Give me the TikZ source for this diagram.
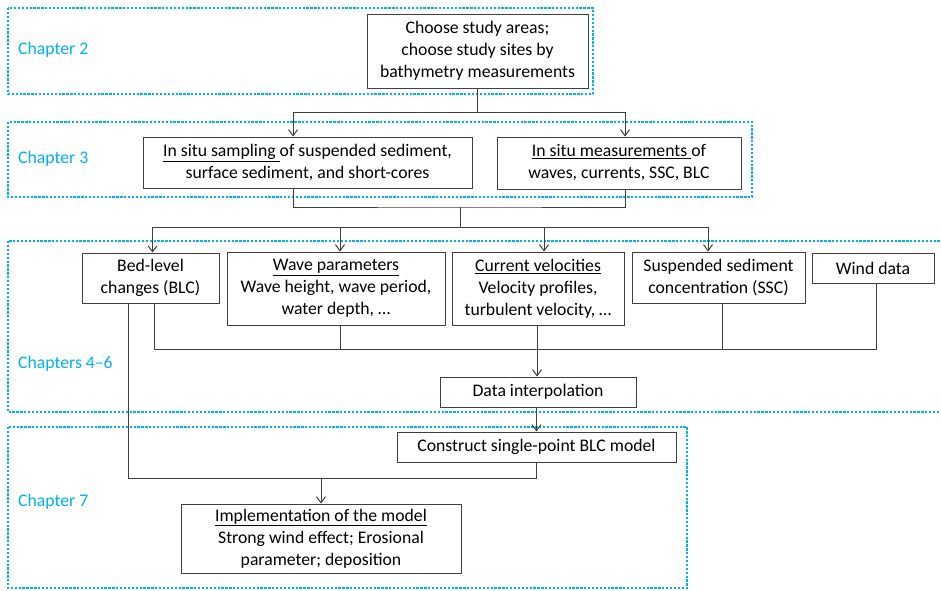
\documentclass[tikz,border=0pt]{standalone}
\usepackage{fontspec}
\setmainfont{Carlito}
\usetikzlibrary{arrows.meta}
\definecolor{chapblue}{RGB}{0,176,240}
\definecolor{boxgray}{RGB}{64,64,64}
\newcommand\fsz{\fontsize{17.7}{22}\selectfont}
\tikzset{
  chapbox/.style={draw=chapblue, line width=2.6pt, dash pattern=on 2.3pt off 1.6pt},
  chaplabel/.style={anchor=west, text=chapblue, font=\fsz, inner sep=0pt},
  stepbox/.style={draw=boxgray, line width=1pt, fill=white, align=center, inner sep=0pt, font=\fsz},
  conn/.style={draw=boxgray, line width=1pt},
  arr/.style={conn, -{Straight Barb[length=6pt,width=9pt]}}
}
\begin{document}
\begin{tikzpicture}[x=1pt, y=-1pt]
\useasboundingbox (0,0) rectangle (941,590);
\fill[white] (0,0) rectangle (941,590);
% chapter frames
\draw[chapbox] (8,8) rectangle (593,94);
\draw[chapbox] (8,122) rectangle (752,197);
\draw[chapbox] (8,241) rectangle (960,412);
\draw[chapbox] (8,427) rectangle (687,588);
\node[chaplabel] (c2) at (18,50) {Chapter 2};
\node[chaplabel] (c3) at (18,159) {Chapter 3};
\node[chaplabel] (c46) at (18,364) {Chapters 4–6};
\node[chaplabel] (c7) at (18,502) {Chapter 7};
% boxes
\node[stepbox, minimum width=221pt, minimum height=74pt] (choose) at (477.5,51)
  {Choose study areas;\\choose study sites by\\bathymetry measurements};
\node[stepbox, minimum width=329pt, minimum height=51pt] (samp) at (307.5,162.5)
  {\underline{In situ sampling\ }of suspended sediment,\\surface sediment, and short-cores};
\node[stepbox, minimum width=244pt, minimum height=52pt] (meas) at (619,163)
  {\underline{In situ measurements\ }of\\waves, currents, SSC, BLC};
\node[stepbox, minimum width=137pt, minimum height=50pt] (blc) at (150.5,278)
  {Bed-level\\changes (BLC)};
\node[stepbox, minimum width=218pt, minimum height=73pt] (wave) at (336,288.5)
  {\underline{Wave parameters}\\Wave height, wave period,\\water depth, \dots};
\node[stepbox, minimum width=172pt, minimum height=73pt] (curr) at (538,288.5)
  {\underline{Current velocities}\\Velocity profiles,\\turbulent velocity, \dots};
\node[stepbox, minimum width=173pt, minimum height=51pt] (ssc) at (718.5,277.5)
  {Suspended sediment\\concentration (SSC)};
\node[stepbox, minimum width=122pt, minimum height=30pt] (wind) at (873,268)
  {Wind data};
\node[stepbox, minimum width=196pt, minimum height=30pt] (interp) at (538,392)
  {Data interpolation};
\node[stepbox, minimum width=279pt, minimum height=30pt] (constr) at (536.5,447)
  {Construct single-point BLC model};
\node[stepbox, minimum width=280pt, minimum height=69pt] (impl) at (321,538.5)
  {\underline{Implementation of the model}\\Strong wind effect; Erosional\\parameter; deposition};
% junctions
\coordinate (j1) at (477.5,112);
\coordinate (j2) at (460,207);
\coordinate (j3) at (460,227);
\coordinate (j4) at (537,349);
\coordinate (j5) at (321,478);
% connectors
\draw[conn] (choose.south) -- (j1);
\draw[arr] (j1) -| ([xshift=-14.5pt]samp.north);
\draw[arr] (j1) -| ([xshift=6pt]meas.north);
\draw[conn] ([xshift=-14.5pt]samp.south) |- (j2) -| ([xshift=6pt]meas.south);
\draw[conn] (j2) -- (j3);
\draw[arr] (j3) -| ([xshift=2pt]blc.north);
\draw[arr] (j3) -| ([xshift=4pt]wave.north);
\draw[arr] (j3) -| ([xshift=6pt]curr.north);
\draw[arr] (j3) -| ([xshift=-10.5pt]ssc.north);
\draw[conn] ([xshift=3.5pt]blc.south) |- (j4) -| ([xshift=3pt]wind.south);
\draw[conn] ([xshift=4pt]wave.south) |- (j4);
\draw[conn] ([xshift=3.5pt]ssc.south) |- (j4);
\draw[arr] ([xshift=-1pt]curr.south) -- ([xshift=-1pt]interp.north);
\draw[arr] ([xshift=-1.5pt]interp.south) -- (constr.north);
\draw[conn] (constr.south) |- (j5);
\draw[conn] ([xshift=-22.5pt]blc.south) |- (j5);
\draw[arr] (j5) -- (impl.north);
\end{tikzpicture}
\end{document}
